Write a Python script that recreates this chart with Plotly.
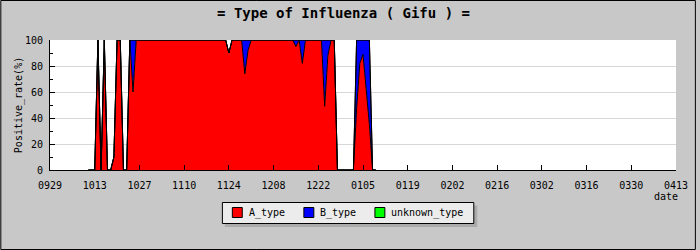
import plotly.graph_objects as go
import pandas as pd

# ---- data (daily positive rate %, 2022-10-11 .. 2023-01-09) ----
start_date = "2022-10-11"

a_type = [
    0, 0, 0, 100, 0, 100, 0, 0, 10, 100, 100, 0, 0, 100,
    60, 100, 100, 100, 100, 100, 100, 100, 100, 100, 100, 100, 100, 100,
    100, 100, 100, 100, 100, 100, 100, 100, 100, 100, 100, 100, 100, 100,
    100, 100, 90, 100, 100, 100, 100, 74, 92, 100, 100, 100, 100, 100,
    100, 100, 100, 100, 100, 100, 100, 100, 100, 95, 100, 82, 100, 100,
    100, 100, 100, 100, 49, 88, 100, 100, 0, 0, 0, 0, 0, 0,
    47, 82, 89, 62, 35, 0, 0,
]
b_type = [
    0, 0, 0, 0, 0, 0, 0, 0, 0, 0, 0, 0, 0, 0,
    40, 0, 0, 0, 0, 0, 0, 0, 0, 0, 0, 0, 0, 0,
    0, 0, 0, 0, 0, 0, 0, 0, 0, 0, 0, 0, 0, 0,
    0, 0, 0, 0, 0, 0, 0, 26, 8, 0, 0, 0, 0, 0,
    0, 0, 0, 0, 0, 0, 0, 0, 0, 5, 0, 18, 0, 0,
    0, 0, 0, 0, 51, 12, 0, 0, 0, 0, 0, 0, 0, 0,
    53, 18, 11, 38, 65, 0, 0,
]
unknown_type = [
    0, 0, 0, 0, 0, 0, 0, 0, 0, 0, 0, 0, 0, 0,
    0, 0, 0, 0, 0, 0, 0, 0, 0, 0, 0, 0, 0, 0,
    0, 0, 0, 0, 0, 0, 0, 0, 0, 0, 0, 0, 0, 0,
    0, 0, 0, 0, 0, 0, 0, 0, 0, 0, 0, 0, 0, 0,
    0, 0, 0, 0, 0, 0, 0, 0, 0, 0, 0, 0, 0, 0,
    0, 0, 0, 0, 0, 0, 0, 0, 0, 0, 0, 0, 0, 0,
    0, 0, 0, 0, 0, 0, 0,
]
dates = pd.date_range(start_date, periods=len(a_type), freq="D")

series_names = ["A_type", "B_type", "unknown_type"]
series_colors = ["#ff0000", "#0000ff", "#00ff00"]
series_values = [a_type, b_type, unknown_type]

tick_labels = ["0929", "1013", "1027", "1110", "1124", "1208", "1222",
               "0105", "0119", "0202", "0216", "0302", "0316", "0330", "0413"]
tick_dates = pd.date_range("2022-09-29", periods=len(tick_labels), freq="14D")

FONT = "DejaVu Sans Mono"

fig = go.Figure()
for name, color, vals in zip(series_names, series_colors, series_values):
    fig.add_trace(go.Scatter(
        x=dates, y=vals, name=name, mode="lines", stackgroup="one",
        line=dict(color="black", width=1), fillcolor=color,
        showlegend=False, hoverinfo="x+y+name",
    ))

L, R, T, B = 50, 20, 40, 80
W, H = 700, 250
pw, ph = W - L - R, H - T - B


def px(x):
    return (x - L) / pw


def py(y):
    return (H - B - y) / ph


def rect(x0, y0, x1, y1, fill, line_color=None):
    return dict(type="rect", xref="paper", yref="paper",
                x0=px(x0), x1=px(x1), y0=py(y1), y1=py(y0),
                line=dict(color=line_color or "rgba(0,0,0,0)",
                          width=1 if line_color else 0),
                fillcolor=fill, layer="above")


# legend box (drawn as shapes + text)
shapes = [
    dict(type="rect", xref="paper", yref="paper",
         x0=px(0.5), x1=px(699.5), y0=py(249.5), y1=py(0.5),
         line=dict(color="black", width=1), fillcolor="rgba(0,0,0,0)",
         layer="below"),
    rect(226, 205.5, 480, 227, "#ababab"),
    rect(223.5, 202.5, 476.5, 223.5, "#ececec", "black"),
]
annotations = [
    dict(text="date", x=1, xref="paper", xanchor="right", xshift=4,
         y=py(196), yref="paper", yanchor="middle", showarrow=False,
         font=dict(family=FONT, size=10, color="black")),
]
legend_x = [233.5, 305.5, 377]
for name, color, lx in zip(series_names, series_colors, legend_x):
    shapes.append(rect(lx, 207.5, lx + 10, 217.5, color, "black"))
    annotations.append(dict(
        text=name, x=px(lx + 15.5), xref="paper", xanchor="left",
        y=py(212.5), yref="paper", yanchor="middle", showarrow=False,
        borderpad=0, font=dict(family=FONT, size=10, color="black")))

fig.update_layout(
    width=W, height=H,
    margin=dict(l=L, r=R, t=T, b=B, pad=0),
    paper_bgcolor="#c8c8c8", plot_bgcolor="#ffffff",
    font=dict(family=FONT, size=10, color="black"),
    showlegend=False,
    title=dict(text="= Type of Influenza ( Gifu ) =",
               font=dict(family=FONT, size=14, color="black", weight="bold"),
               x=343.5 / W, xanchor="center", xref="container",
               y=1 - 13 / H, yanchor="middle", yref="container"),
    xaxis=dict(type="date", range=[tick_dates[0], tick_dates[-1]],
               tickvals=tick_dates, ticktext=tick_labels,
               ticks="inside", ticklen=5, tickcolor="black", tickwidth=1,
               showline=True, linecolor="black", linewidth=1,
               showgrid=False, zeroline=False, ticklabelstandoff=6,
               tickfont=dict(family=FONT, size=10, color="black")),
    yaxis=dict(range=[0, 100], dtick=20, tick0=0,
               showline=True, linecolor="black", linewidth=1,
               showgrid=True, gridcolor="#d8d8d8", gridwidth=1,
               zeroline=False, ticks="inside", ticklen=5, tickcolor="black",
               ticklabelstandoff=4,
               minor=dict(dtick=10, ticks="inside", ticklen=3,
                          tickcolor="black", showgrid=False),
               tickfont=dict(family=FONT, size=10, color="black"),
               title=dict(text="Positive_rate(%)", standoff=0,
                          font=dict(family=FONT, size=10, color="black"))),
    annotations=annotations,
    shapes=shapes,
)

fig.write_html("out.html")
